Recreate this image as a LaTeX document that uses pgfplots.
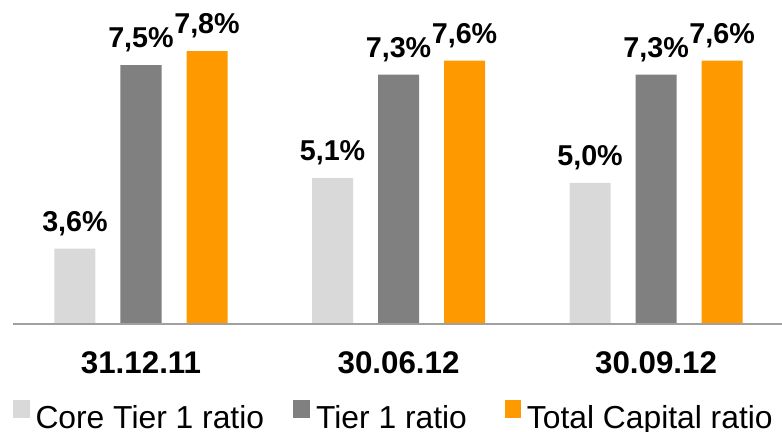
\documentclass[border=0pt]{standalone}
\usepackage{fontspec}
\setmainfont{Liberation Sans}
\usepackage{pgfplots}
\pgfplotsset{compat=1.18}
\definecolor{cLight}{HTML}{D9D9D9}
\definecolor{cGray}{HTML}{808080}
\definecolor{cOrange}{HTML}{FF9900}
\definecolor{cAxis}{HTML}{A0A0A0}
\begin{document}
\begin{tikzpicture}
\begin{axis}[
 x=257.5bp, y=47.05bp,
 xmin=-0.497, xmax=2.489, ymin=2, ymax=8.886,
 ybar=25bp, bar width=41bp,
 axis on top,
 axis x line*=bottom, axis y line=none,
 x axis line style={draw=cAxis, line width=1.3bp, -},
 xtick={0,1,2}, xticklabels={31.12.11,30.06.12,30.09.12},
 major tick length=0pt,
 xticklabel style={anchor=base, yshift=-49bp, inner sep=0pt, font=\bfseries\fontsize{31.3bp}{36bp}\selectfont},
 ytick=\empty,
 nodes near coords={\pgfmathprintnumber[fixed,fixed zerofill,precision=1,use comma,assume math mode=true]{\pgfplotspointmeta}\%},
 nodes near coords style={anchor=base, yshift=17.5bp, inner sep=0pt, font=\bfseries\fontsize{28.7bp}{32bp}\selectfont, text=black},
 legend columns=3,
 legend style={draw=none, fill=none, inner sep=0pt, outer sep=0pt,
   at={(0,-0.2855)}, anchor=west,
   font=\fontsize{31.8bp}{36bp}\selectfont,
   nodes={inner sep=0pt, text height=23bp, text depth=4bp}},
 legend image code/.code={\fill[#1] (0bp,1.25bp) rectangle (16.5bp,18.75bp);},
]
\addplot[fill=cLight, draw=none] coordinates {(0,3.6) (1,5.1) (2,5.0)};
\addplot[fill=cGray, draw=none] coordinates {(0,7.5) (1,7.3) (2,7.3)};
\addplot[fill=cOrange, draw=none] coordinates {(0,7.8) (1,7.6) (2,7.6)};
\legend{\hspace{6bp}Core Tier 1 ratio\kern29bp\null, \hspace{6.5bp}Tier 1 ratio\kern38bp\null, \hspace{5.5bp}Total Capital ratio}
\coordinate (bl) at (axis cs:-0.5475,-0.274);
\coordinate (tr) at (axis cs:2.489,8.886);
\end{axis}
\pgfresetboundingbox
\path (bl) rectangle (tr);
\end{tikzpicture}
\end{document}
